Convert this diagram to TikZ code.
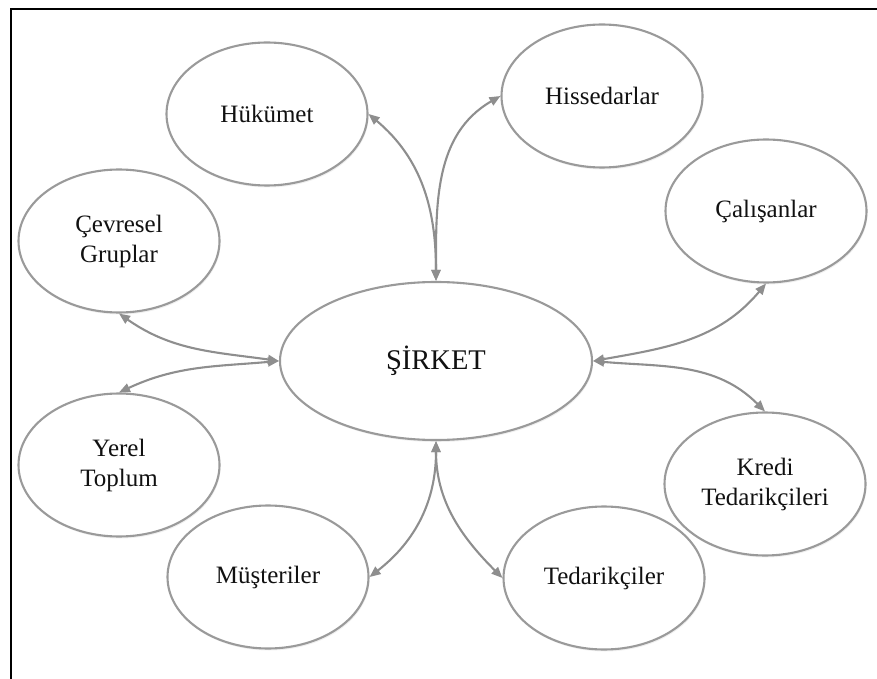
\documentclass[tikz,border=0pt]{standalone}
\usepackage{fontspec}
\setmainfont{Liberation Serif}
\usetikzlibrary{shapes.geometric,arrows.meta,shadows}
\definecolor{ellcol}{HTML}{9A9A9A}
\definecolor{arrcol}{HTML}{8E8E8E}
\definecolor{txtcol}{HTML}{111111}
\begin{document}
\begin{tikzpicture}[x=1pt,y=1pt,
  bubble/.style={ellipse, draw=ellcol, fill=white, line width=2.1pt,
    minimum width=201pt, minimum height=143pt, inner sep=0pt, align=center,
    text=txtcol, font=\fontsize{25}{30}\selectfont,
    drop shadow={shadow xshift=1pt, shadow yshift=-2pt, opacity=0.12}},
  link/.style={draw=arrcol, line width=2.1pt,
    {Triangle[length=11pt,width=9pt]}-{Triangle[length=11pt,width=9pt]}}]
\useasboundingbox (0,0) rectangle (877,678);
\coordinate (fbl) at (11,0);
\coordinate (ftl) at (11,669);
\coordinate (ftr) at (877,669);
\draw[line width=2.5pt, line cap=rect] (fbl) -- (ftl) -- (ftr);

\node[bubble, minimum width=312pt, minimum height=158pt,
      font=\fontsize{28.5}{34}\selectfont] (sirket) at (436,317) {ŞİRKET};
\node[bubble] (hukumet) at (267,564) {Hükümet};
\node[bubble] (hisse)   at (602,582) {Hissedarlar};
\node[bubble] (cevre)   at (119,437) {Çevresel\\Gruplar};
\node[bubble] (calisan) at (766,467) {Çalışanlar};
\node[bubble] (yerel)   at (119,213) {Yerel\\Toplum};
\node[bubble] (kredi)   at (765,194) {Kredi\\Tedarikçileri};
\node[bubble] (musteri) at (268,101) {Müşteriler};
\node[bubble] (tedarik) at (604,100) {Tedarikçiler};

\draw[link] (sirket.north) to[out=90,in=-40] (hukumet.east);
\draw[link] (sirket.north) to[out=90,in=210] (hisse.west);
\draw[link] (sirket.east) to[out=10,in=230] (calisan.south);
\draw[link] (sirket.east) to[out=-5,in=135] (kredi.north);
\draw[link] (sirket.west) to[out=172,in=-35] (cevre.south);
\draw[link] (sirket.west) to[out=185,in=25] (yerel.north);
\draw[link] (sirket.south) to[out=-90,in=38] (musteri.east);
\draw[link] (sirket.south) to[out=-90,in=135] (tedarik.west);
\end{tikzpicture}
\end{document}
